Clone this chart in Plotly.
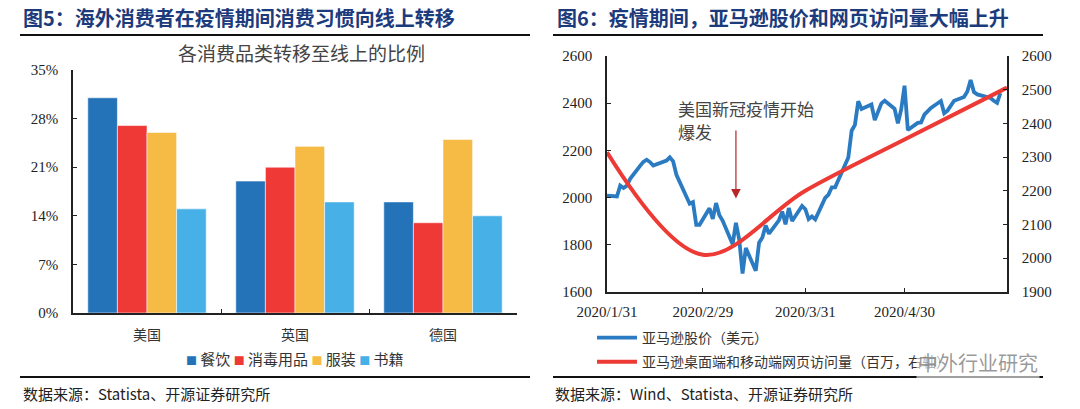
import plotly.graph_objects as go

# ---------------- Data ----------------
countries = ["美国", "英国", "德国"]
cat_names = ["餐饮", "消毒用品", "服装", "书籍"]
cat_values = {
    "餐饮": [31, 19, 16],
    "消毒用品": [27, 21, 13],
    "服装": [26, 24, 25],
    "书籍": [15, 16, 14],
}
cat_colors = ["#2472B8", "#EE3936", "#F6BB45", "#47B0E6"]
pct_ticks = [0, 7, 14, 21, 28, 35]

stock_dates = [
    "2020-01-31", "2020-02-03", "2020-02-04", "2020-02-05", "2020-02-06", "2020-02-07",
    "2020-02-10", "2020-02-11", "2020-02-12", "2020-02-13", "2020-02-14", "2020-02-18",
    "2020-02-19", "2020-02-20", "2020-02-21", "2020-02-24", "2020-02-25", "2020-02-26",
    "2020-02-27", "2020-02-28", "2020-03-02", "2020-03-03", "2020-03-04", "2020-03-05",
    "2020-03-06", "2020-03-09", "2020-03-10", "2020-03-11", "2020-03-12", "2020-03-13",
    "2020-03-16", "2020-03-17", "2020-03-18", "2020-03-19", "2020-03-20", "2020-03-23",
    "2020-03-24", "2020-03-25", "2020-03-26", "2020-03-27", "2020-03-30", "2020-03-31",
    "2020-04-01", "2020-04-02", "2020-04-03", "2020-04-06", "2020-04-07", "2020-04-08",
    "2020-04-09", "2020-04-13", "2020-04-14", "2020-04-15", "2020-04-16", "2020-04-17",
    "2020-04-20", "2020-04-21", "2020-04-22", "2020-04-23", "2020-04-24", "2020-04-27",
    "2020-04-28", "2020-04-29", "2020-04-30", "2020-05-01", "2020-05-04", "2020-05-05",
    "2020-05-06", "2020-05-07", "2020-05-08", "2020-05-11", "2020-05-12", "2020-05-13",
    "2020-05-14", "2020-05-15", "2020-05-18", "2020-05-19", "2020-05-20", "2020-05-21",
    "2020-05-22", "2020-05-26", "2020-05-27", "2020-05-28", "2020-05-29",
]
stock_price = [
    2008, 2004, 2050, 2040, 2050, 2079,
    2134, 2151, 2160, 2150, 2135, 2156,
    2170, 2153, 2096, 2009, 1973, 1980,
    1884, 1884, 1954, 1909, 1976, 1924,
    1901, 1801, 1892, 1821, 1677, 1785,
    1689, 1808, 1830, 1881, 1846, 1903,
    1940, 1886, 1955, 1900, 1964, 1950,
    1908, 1919, 1907, 1998, 2012, 2043,
    2043, 2169, 2283, 2308, 2408, 2375,
    2394, 2328, 2363, 2399, 2410, 2376,
    2314, 2373, 2474, 2286, 2316, 2318,
    2351, 2368, 2380, 2409, 2357, 2368,
    2389, 2410, 2426, 2449, 2498, 2447,
    2437, 2422, 2410, 2401, 2442,
]

visit_dates = ["2020-01-31", "2020-02-29", "2020-03-31", "2020-04-30", "2020-05-31"]
visit_values = [2314, 2010, 2200, 2352, 2506]

date_ticks = ["2020-01-31", "2020-02-29", "2020-03-31", "2020-04-30"]
date_ticktext = ["2020/1/31", "2020/2/29", "2020/3/31", "2020/4/30"]

# ---------------- Layout helpers ----------------
W, H = 1080, 409
def px(xp):
    return xp / W
def py(yp):
    return 1 - yp / H

CJK = "Noto Sans CJK SC"
SERIF = "Liberation Serif"
NAVY = "#1C3B7C"

fig = go.Figure()

for name, col in zip(cat_names, cat_colors):
    fig.add_trace(go.Bar(
        x=countries, y=cat_values[name], name=name, showlegend=False,
        marker=dict(color=col, line=dict(color="rgba(255,255,255,0.55)", width=1)),
        xaxis="x", yaxis="y",
    ))

fig.add_trace(go.Scatter(
    x=stock_dates, y=stock_price, mode="lines", name="亚马逊股价（美元）",
    line=dict(color="#2A7BC1", width=3.8), xaxis="x2", yaxis="y3",
    legend="legend2", legendgroup="a",
))
fig.add_trace(go.Scatter(
    x=visit_dates, y=visit_values, mode="lines", name="亚马逊桌面端和移动端网页访问量（百万，右轴）",
    line=dict(color="#EE3A35", width=4, shape="spline", smoothing=1.0),
    xaxis="x2", yaxis="y4", legend="legend2", legendgroup="b",
))

def ax(**kw):
    d = dict(showgrid=False, zeroline=False, showline=True, linecolor="#222",
             linewidth=1.5, ticks="inside", tickcolor="#222", ticklen=4, automargin=False,
             tickfont=dict(family=SERIF, size=15, color="#222"))
    d.update(kw)
    return d

fig.update_layout(
    width=W, height=H, margin=dict(l=0, r=0, t=0, b=0, autoexpand=False),
    paper_bgcolor="white", plot_bgcolor="white",
    barmode="group", bargap=0.2, bargroupgap=0,
    xaxis=ax(domain=[px(73), px(517)], anchor="y", type="category",
             tickson="boundaries", ticklabelstandoff=8,
             tickfont=dict(family=CJK, size=14, color="#333")),
    yaxis=ax(domain=[py(313), py(70)], anchor="x", range=[0, 35],
             tickvals=pct_ticks, ticktext=[f"{v}%" for v in pct_ticks], ticklabelstandoff=10),
    xaxis2=ax(domain=[px(607), px(1007)], anchor="y3", type="date",
              range=["2020-01-31", "2020-05-31"], tickvals=date_ticks,
              ticktext=date_ticktext, ticklabelstandoff=6),
    yaxis3=ax(domain=[py(291.7), py(56)], anchor="x2", range=[1600, 2600],
              dtick=200, ticklabelstandoff=10),
    yaxis4=ax(domain=[py(291.7), py(56)], anchor="x2", overlaying="y3", side="right",
              range=[1900, 2600], dtick=100, ticklabelstandoff=10),
    legend2=dict(orientation="v", x=px(592), xanchor="left", y=py(322), yanchor="top",
                 font=dict(family=CJK, size=14, color="#333"), itemwidth=40,
                 bgcolor="rgba(0,0,0,0)", tracegroupgap=3),
    showlegend=True,
)

# Compact legend for the bar chart (text with coloured squares)
legend_html = "&nbsp;".join(
    f"<span style='color:{c};font-size:11px'>■</span>&nbsp;{n}" for n, c in zip(cat_names, cat_colors)
)

annos = [
    dict(text="图5：海外消费者在疫情期间消费习惯向线上转移", x=px(21), y=py(18),
         xanchor="left", yanchor="middle", font=dict(family=CJK, size=20, color=NAVY, weight="bold")),
    dict(text="图6：疫情期间，亚马逊股价和网页访问量大幅上升", x=px(555), y=py(18),
         xanchor="left", yanchor="middle", font=dict(family=CJK, size=20, color=NAVY, weight="bold")),
    dict(text="各消费品类转移至线上的比例", x=px(301), y=py(52),
         xanchor="center", yanchor="middle", font=dict(family=CJK, size=19, color="#444")),
    dict(text=legend_html, x=px(295), y=py(358), xanchor="center", yanchor="middle",
         font=dict(family=CJK, size=15, color="#333")),
    dict(text="数据来源：Statista、开源证券研究所", x=px(21), y=py(393),
         xanchor="left", yanchor="middle", font=dict(family=CJK, size=15, color="#222")),
    dict(text="数据来源：Wind、Statista、开源证券研究所", x=px(553), y=py(393),
         xanchor="left", yanchor="middle", font=dict(family=CJK, size=15, color="#222")),
    dict(text="美国新冠疫情开始", x=px(676), y=py(108),
         xanchor="left", yanchor="middle", font=dict(family=CJK, size=17, color="#444")),
    dict(text="爆发", x=px(676), y=py(132),
         xanchor="left", yanchor="middle", font=dict(family=CJK, size=17, color="#444")),
    dict(text="中外行业研究", x=px(1040), y=py(362), xanchor="right", yanchor="middle",
         font=dict(family=CJK, size=20, color="rgba(120,120,120,0.75)"),
         bgcolor="rgba(255,255,255,0.6)"),
]
for a in annos:
    a.update(xref="paper", yref="paper", showarrow=False)
    fig.add_annotation(**a)

# Arrow
fig.add_annotation(x="2020-03-10", y=1995, xref="x2", yref="y3",
                   ax="2020-03-10", ay=2290, axref="x2", ayref="y3",
                   showarrow=True, arrowhead=2, arrowsize=1.6, arrowwidth=1.2,
                   arrowcolor="#B8262A", text="")

# Separator lines
for x0, x1, yv in [(20, 530, 35), (553, 1043, 35), (20, 530, 377), (553, 1043, 377)]:
    fig.add_shape(type="line", xref="paper", yref="paper", x0=px(x0), x1=px(x1),
                  y0=py(yv), y1=py(yv), line=dict(color="#111", width=2))

fig.write_html("out.html", config={"displayModeBar": False},
               post_script="document.body.style.margin='0px';")
